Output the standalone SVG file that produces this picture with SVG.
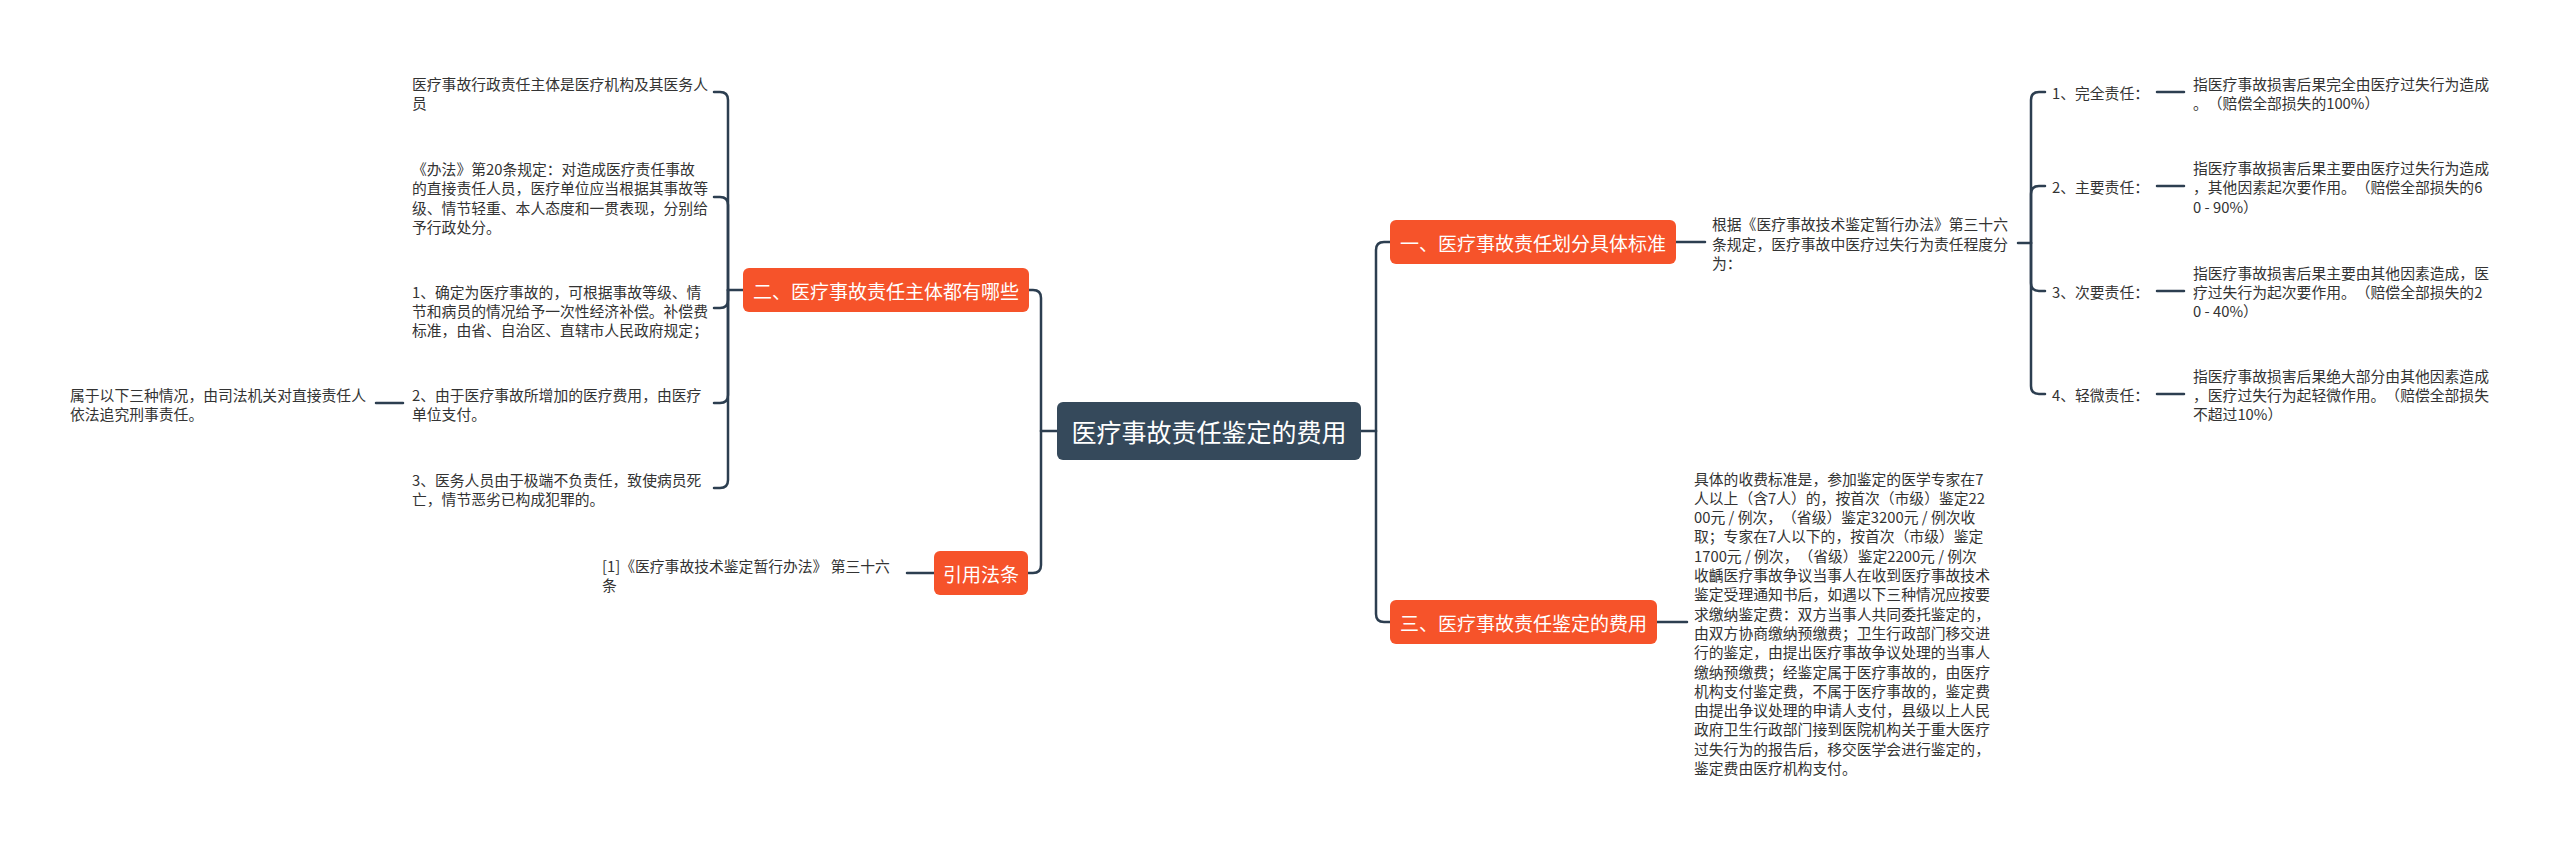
<svg xmlns="http://www.w3.org/2000/svg" width="2560" height="845" viewBox="0 0 2560 845">
<style>
.bg{fill:#ffffff}
.conn{fill:none;stroke:#2c3e50;stroke-width:2.5;stroke-linecap:round}
.root{fill:#35495b}
.main{fill:#f6532a}
.rt{font-family:"Noto Sans CJK SC","Liberation Sans",sans-serif;font-size:25px;fill:#ffffff;text-anchor:middle;dominant-baseline:central}
.mt{font-family:"Noto Sans CJK SC","Liberation Sans",sans-serif;font-size:19px;fill:#ffffff;text-anchor:middle;dominant-baseline:central}
.lt{font-family:"Noto Sans CJK SC","Liberation Sans",sans-serif;font-size:14.8px;fill:#333333;dominant-baseline:central;text-spacing-trim:space-all}
</style>
<rect class="bg" x="0" y="0" width="2560" height="845"/>
<g id="connectors">
<path class="conn" d="M1361,431 H1376"/>
<path class="conn" d="M1376,431 V250 Q1376,242 1384,242 H1390"/>
<path class="conn" d="M1376,431 V614 Q1376,622 1384,622 H1390"/>
<path class="conn" d="M1057,431 H1041"/>
<path class="conn" d="M1041,431 V298 Q1041,290 1033,290 H1029"/>
<path class="conn" d="M1041,431 V565 Q1041,573 1033,573 H1028"/>
<path class="conn" d="M743,290 H728"/>
<path class="conn" d="M728,290 V100 Q728,92 720,92 H714"/>
<path class="conn" d="M728,290 V205 Q728,197 720,197 H714"/>
<path class="conn" d="M728,290 V300 Q728,308 720,308 H714"/>
<path class="conn" d="M728,290 V395 Q728,403 720,403 H714"/>
<path class="conn" d="M728,290 V480 Q728,488 720,488 H714"/>
<path class="conn" d="M403,403 H376"/>
<path class="conn" d="M934,573 H907"/>
<path class="conn" d="M1676,242 H1705"/>
<path class="conn" d="M2018,243 H2031"/>
<path class="conn" d="M2031,243 V100 Q2031,92 2039,92 H2045"/>
<path class="conn" d="M2031,243 V194 Q2031,186 2039,186 H2045"/>
<path class="conn" d="M2031,243 V283 Q2031,291 2039,291 H2045"/>
<path class="conn" d="M2031,243 V386 Q2031,394 2039,394 H2045"/>
<path class="conn" d="M2157,92 H2184"/>
<path class="conn" d="M2157,186 H2184"/>
<path class="conn" d="M2157,291 H2184"/>
<path class="conn" d="M2157,394 H2184"/>
<path class="conn" d="M1657,622 H1687"/>
</g>
<g id="root">
<rect class="root" x="1057" y="402" width="304" height="58" rx="6"/>
<text class="rt" x="1209" y="431">医疗事故责任鉴定的费用</text>
</g>
<g id="node-1">
<rect class="main" x="1390" y="220" width="286" height="44" rx="6"/>
<text class="mt" x="1533" y="242">一、医疗事故责任划分具体标准</text>
</g>
<g id="node-3">
<rect class="main" x="1390" y="600" width="267" height="44" rx="6"/>
<text class="mt" x="1523.5" y="622">三、医疗事故责任鉴定的费用</text>
</g>
<g id="node-2">
<rect class="main" x="743" y="268" width="286" height="44" rx="6"/>
<text class="mt" x="886" y="290">二、医疗事故责任主体都有哪些</text>
</g>
<g id="node-cite">
<rect class="main" x="934" y="551" width="94" height="44" rx="6"/>
<text class="mt" x="981" y="573">引用法条</text>
</g>
<g id="leaf-2-1">
<text class="lt" x="412" y="83">医疗事故行政责任主体是医疗机构及其医务人</text>
<text class="lt" x="412" y="102">员</text>
</g>
<g id="leaf-2-2">
<text class="lt" x="412" y="168">《办法》第20条规定：对造成医疗责任事故</text>
<text class="lt" x="412" y="187.5">的直接责任人员，医疗单位应当根据其事故等</text>
<text class="lt" x="412" y="207">级、情节轻重、本人态度和一贯表现，分别给</text>
<text class="lt" x="412" y="226.5">予行政处分。</text>
</g>
<g id="leaf-2-3">
<text class="lt" x="412" y="291">1、确定为医疗事故的，可根据事故等级、情</text>
<text class="lt" x="412" y="310">节和病员的情况给予一次性经济补偿。补偿费</text>
<text class="lt" x="412" y="329">标准，由省、自治区、直辖市人民政府规定；</text>
</g>
<g id="leaf-2-4">
<text class="lt" x="412" y="394.5">2、由于医疗事故所增加的医疗费用，由医疗</text>
<text class="lt" x="412" y="413.5">单位支付。</text>
</g>
<g id="leaf-2-5">
<text class="lt" x="412" y="479.5">3、医务人员由于极端不负责任，致使病员死</text>
<text class="lt" x="412" y="498.5">亡，情节恶劣已构成犯罪的。</text>
</g>
<g id="leaf-far-left">
<text class="lt" x="70" y="394.5">属于以下三种情况，由司法机关对直接责任人</text>
<text class="lt" x="70" y="413.5">依法追究刑事责任。</text>
</g>
<g id="leaf-cite">
<text class="lt" x="602" y="565">[1]《医疗事故技术鉴定暂行办法》 第三十六</text>
<text class="lt" x="602" y="584">条</text>
</g>
<g id="leaf-1-desc">
<text class="lt" x="1712" y="223.5">根据《医疗事故技术鉴定暂行办法》第三十六</text>
<text class="lt" x="1712" y="243">条规定，医疗事故中医疗过失行为责任程度分</text>
<text class="lt" x="1712" y="262.5">为：</text>
</g>
<g id="item-1">
<text class="lt" x="2052" y="92">1、完全责任：</text>
</g>
<g id="item-1-desc">
<text class="lt" x="2193" y="83">指医疗事故损害后果完全由医疗过失行为造成</text>
<text class="lt" x="2193" y="102.5">。（赔偿全部损失的100%）</text>
</g>
<g id="item-2">
<text class="lt" x="2052" y="186">2、主要责任：</text>
</g>
<g id="item-2-desc">
<text class="lt" x="2193" y="167">指医疗事故损害后果主要由医疗过失行为造成</text>
<text class="lt" x="2193" y="186.5">，其他因素起次要作用。（赔偿全部损失的6</text>
<text class="lt" x="2193" y="206">0 - 90%）</text>
</g>
<g id="item-3">
<text class="lt" x="2052" y="291">3、次要责任：</text>
</g>
<g id="item-3-desc">
<text class="lt" x="2193" y="272">指医疗事故损害后果主要由其他因素造成，医</text>
<text class="lt" x="2193" y="291">疗过失行为起次要作用。（赔偿全部损失的2</text>
<text class="lt" x="2193" y="310">0 - 40%）</text>
</g>
<g id="item-4">
<text class="lt" x="2052" y="394">4、轻微责任：</text>
</g>
<g id="item-4-desc">
<text class="lt" x="2193" y="375">指医疗事故损害后果绝大部分由其他因素造成</text>
<text class="lt" x="2193" y="394">，医疗过失行为起轻微作用。（赔偿全部损失</text>
<text class="lt" x="2193" y="413">不超过10%）</text>
</g>
<g id="leaf-3-desc">
<text class="lt" x="1694" y="478">具体的收费标准是，参加鉴定的医学专家在7</text>
<text class="lt" x="1694" y="497.3">人以上（含7人）的，按首次（市级）鉴定22</text>
<text class="lt" x="1694" y="516.6">00元 / 例次，（省级）鉴定3200元 / 例次收</text>
<text class="lt" x="1694" y="535.9">取；专家在7人以下的，按首次（市级）鉴定</text>
<text class="lt" x="1694" y="555.2">1700元 / 例次，（省级）鉴定2200元 / 例次</text>
<text class="lt" x="1694" y="574.5">收齲医疗事故争议当事人在收到医疗事故技术</text>
<text class="lt" x="1694" y="593.8">鉴定受理通知书后，如遇以下三种情况应按要</text>
<text class="lt" x="1694" y="613.1">求缴纳鉴定费：双方当事人共同委托鉴定的，</text>
<text class="lt" x="1694" y="632.4">由双方协商缴纳预缴费；卫生行政部门移交进</text>
<text class="lt" x="1694" y="651.7">行的鉴定，由提出医疗事故争议处理的当事人</text>
<text class="lt" x="1694" y="671">缴纳预缴费；经鉴定属于医疗事故的，由医疗</text>
<text class="lt" x="1694" y="690.3">机构支付鉴定费，不属于医疗事故的，鉴定费</text>
<text class="lt" x="1694" y="709.6">由提出争议处理的申请人支付，县级以上人民</text>
<text class="lt" x="1694" y="728.9">政府卫生行政部门接到医院机构关于重大医疗</text>
<text class="lt" x="1694" y="748.2">过失行为的报告后，移交医学会进行鉴定的，</text>
<text class="lt" x="1694" y="767.5">鉴定费由医疗机构支付。</text>
</g>
</svg>
